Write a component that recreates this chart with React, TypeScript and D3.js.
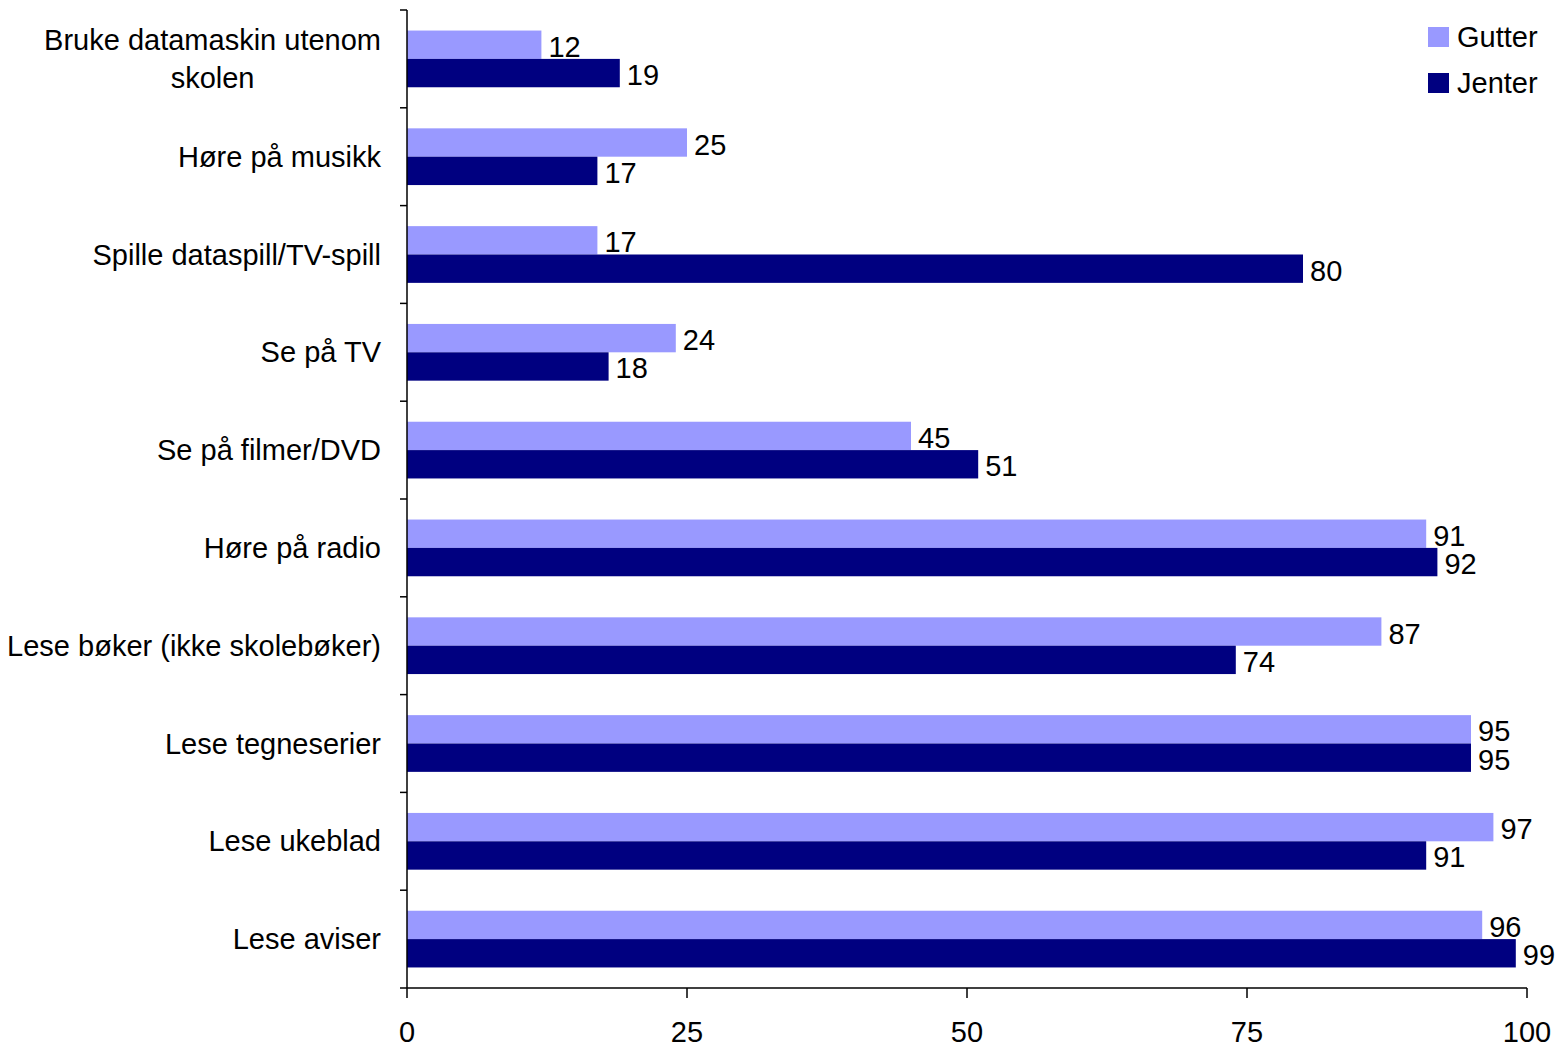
import React, { useEffect, useRef } from "react";
import * as d3 from "d3";

const categories = [
  "Bruke datamaskin utenom skolen",
  "Høre på musikk",
  "Spille dataspill/TV-spill",
  "Se på TV",
  "Se på filmer/DVD",
  "Høre på radio",
  "Lese bøker (ikke skolebøker)",
  "Lese tegneserier",
  "Lese ukeblad",
  "Lese aviser",
];

// Line breaks for long category names
const categoryLines: Record<string, string[]> = {
  "Bruke datamaskin utenom skolen": ["Bruke datamaskin utenom", "skolen"],
};

const seriesNames = ["Gutter", "Jenter"];
const gutter = [12, 25, 17, 24, 45, 91, 87, 95, 97, 96];
const jenter = [19, 17, 80, 18, 51, 92, 74, 95, 91, 99];
const seriesColors = ["#9999FF", "#000080"];
const xTicks = [0, 25, 50, 75, 100];

const W = 1568;
const H = 1046;
const FONT = "'Liberation Sans', Arial, sans-serif";
const FS = 29;

export default function App() {
  const ref = useRef<SVGSVGElement>(null);

  useEffect(() => {
    const svg = d3.select(ref.current);
    svg.selectAll("*").remove();

    const left = 407;
    const right = 1527;
    const top = 10;
    const bottom = 988;

    const x = d3.scaleLinear().domain([0, 100]).range([left, right]);
    const y = d3.scaleBand<string>().domain(categories).range([top, bottom]).padding(0);
    const bw = y.bandwidth();
    const sub = d3
      .scaleBand<string>()
      .domain(seriesNames)
      .range([bw * 0.21, bw * 0.79])
      .padding(0);

    const series = [gutter, jenter];
    const g = svg.append("g");

    // bars and value labels
    seriesNames.forEach((name, si) => {
      g.append("g")
        .selectAll("rect")
        .data(categories)
        .join("rect")
        .attr("x", x(0))
        .attr("y", (c) => (y(c) as number) + (sub(name) as number))
        .attr("width", (_c, i) => x(series[si][i]) - x(0))
        .attr("height", sub.bandwidth())
        .attr("fill", seriesColors[si]);

      g.append("g")
        .selectAll("text")
        .data(categories)
        .join("text")
        .attr("x", (_c, i) => x(series[si][i]) + 7)
        .attr("y", (c) => (y(c) as number) + (sub(name) as number) + sub.bandwidth() / 2 + 12)
        .attr("font-family", FONT)
        .attr("font-size", FS)
        .attr("fill", "#000")
        .text((_c, i) => String(series[si][i]));
    });

    // y axis
    g.append("line")
      .attr("x1", left).attr("x2", left)
      .attr("y1", top).attr("y2", bottom)
      .attr("stroke", "#000").attr("stroke-width", 1.5);
    const boundaries = categories.map((c) => y(c) as number).concat([bottom]);
    g.append("g")
      .selectAll("line")
      .data(boundaries)
      .join("line")
      .attr("x1", left - 7).attr("x2", left)
      .attr("y1", (d) => d).attr("y2", (d) => d)
      .attr("stroke", "#000").attr("stroke-width", 1.5);

    // category labels
    const labelRight = 381;
    categories.forEach((c) => {
      const lines = categoryLines[c] || [c];
      const cy = (y(c) as number) + bw / 2;
      const lh = 38;
      const t = g
        .append("text")
        .attr("font-family", FONT)
        .attr("font-size", FS)
        .attr("fill", "#000");
      lines.forEach((ln, li) => {
        t.append("tspan")
          .attr("y", cy + (li - (lines.length - 1) / 2) * lh + 10)
          .text(ln);
      });
      // right-align the block, centre its lines within it
      const tspans = t.selectAll<SVGTSpanElement, unknown>("tspan").nodes();
      const widths = tspans.map((n) => n.getComputedTextLength());
      const maxW = Math.max(...widths);
      const centerX = labelRight - maxW / 2;
      t.attr("text-anchor", "middle");
      t.selectAll("tspan").attr("x", centerX);
    });

    // x axis
    g.append("line")
      .attr("x1", left).attr("x2", right)
      .attr("y1", bottom).attr("y2", bottom)
      .attr("stroke", "#000").attr("stroke-width", 1.5);
    g.append("g")
      .selectAll("line")
      .data(xTicks)
      .join("line")
      .attr("x1", (d) => x(d)).attr("x2", (d) => x(d))
      .attr("y1", bottom).attr("y2", bottom + 10)
      .attr("stroke", "#000").attr("stroke-width", 1.5);
    g.append("g")
      .selectAll("text")
      .data(xTicks)
      .join("text")
      .attr("x", (d) => x(d))
      .attr("y", 1042)
      .attr("text-anchor", "middle")
      .attr("font-family", FONT)
      .attr("font-size", FS)
      .attr("fill", "#000")
      .text((d) => String(d));

    // legend
    const legend = g.append("g").attr("transform", "translate(1428,27)");
    seriesNames.forEach((name, i) => {
      const row = legend.append("g").attr("transform", `translate(0,${i * 46})`);
      row.append("rect").attr("width", 21).attr("height", 20).attr("fill", seriesColors[i]);
      row.append("text")
        .attr("x", 29)
        .attr("y", 20)
        .attr("font-family", FONT)
        .attr("font-size", FS)
        .attr("fill", "#000")
        .text(name);
    });
  }, []);

  return (
    <svg
      ref={ref}
      width={W}
      height={H}
      style={{ position: "absolute", left: 0, top: 0, background: "#fff", display: "block" }}
    />
  );
}
